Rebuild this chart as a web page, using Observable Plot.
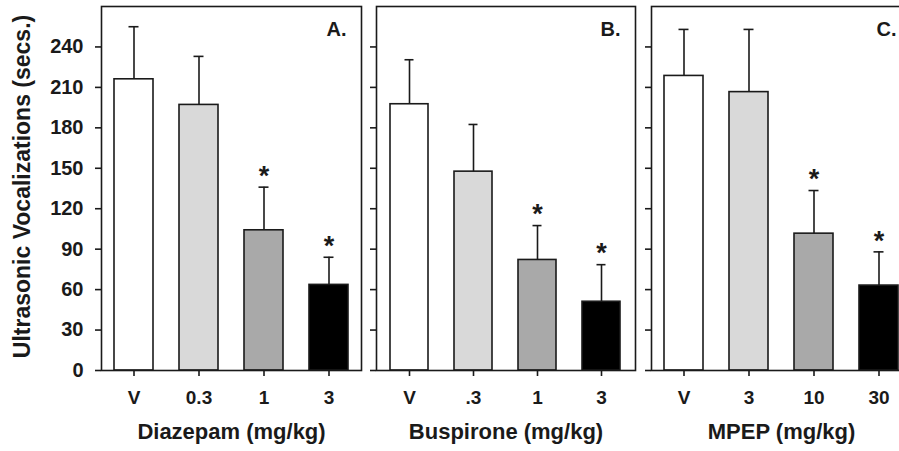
<!DOCTYPE html>
<html>
<head>
<meta charset="utf-8">
<script src="https://cdn.jsdelivr.net/npm/d3@7"></script>
<script src="https://cdn.jsdelivr.net/npm/@observablehq/plot@0.6"></script>
<style>
  html, body { margin: 0; padding: 0; background: white; }
  #wrap { position: relative; width: 899px; height: 451px; overflow: hidden; background: white; }
  .panel { position: absolute; top: 0; }
</style>
</head>
<body>
<div id="wrap"></div>
<script>
// ---- data ----
const dosesA = ["V", "0.3", "1", "3"];
const meansA = [216, 197, 104, 63.5];
const semsA  = [39, 36, 32, 20.5];
const sigA   = [false, false, true, true];

const dosesB = ["V", ".3", "1", "3"];
const meansB = [197.5, 147.5, 82, 51];
const semsB  = [33, 35, 25.5, 27.5];
const sigB   = [false, false, true, true];

const dosesC = ["V", "3", "10", "30"];
const meansC = [218.5, 206.5, 101.5, 63];
const semsC  = [34.5, 46.5, 32, 25];
const sigC   = [false, false, true, true];

const yTicks = [0, 30, 60, 90, 120, 150, 180, 210, 240];
const yLabel = "Ultrasonic Vocalizations (secs.)";
const xTitles = ["Diazepam (mg/kg)", "Buspirone (mg/kg)", "MPEP (mg/kg)"];
const panelLetters = ["A.", "B.", "C."];

// ---- styles ----
const barColors = ["#ffffff", "#d9d9d9", "#a9a9a9", "#000000"];
const ink = "#1a1a1a";
const font = "'Liberation Sans', Arial, Helvetica, sans-serif";

function rowsOf(doses, means, sems, sig) {
  return doses.map((d, i) => ({dose: d, mean: means[i], sem: sems[i], sig: sig[i], color: barColors[i]}));
}

function panel({doses, means, sems, sig, title, letter, left, width, marginLeft, marginRight, showY}) {
  const rows = rowsOf(doses, means, sems, sig);
  const marks = [
    Plot.barY(rows, {x: "dose", y: "mean", fill: "color", stroke: ink, strokeWidth: 1.6}),
    Plot.ruleX(rows, {x: "dose", y1: "mean", y2: d => d.mean + d.sem, stroke: ink, strokeWidth: 1.6}),
    Plot.tickY(rows, {x: "dose", y: d => d.mean + d.sem, stroke: ink, strokeWidth: 1.6, insetLeft: 14.5, insetRight: 14.5}),
    Plot.text(rows.filter(d => d.sig), {x: "dose", y: d => d.mean + d.sem, text: () => "*", dy: -11, fontSize: 27, fontWeight: "bold", fill: ink}),
    Plot.axisY({ticks: yTicks, tickSize: 6, tickPadding: 12, fontSize: 20, fontWeight: "bold", stroke: ink, strokeWidth: 1.6,
                fill: ink, label: null, tickFormat: showY ? (d => d) : (() => "")}),
    Plot.axisX({tickSize: 6, tickPadding: 14, fontSize: 19, fontWeight: "bold", stroke: ink, strokeWidth: 1.6, fill: ink, label: null}),
    Plot.frame({stroke: ink, strokeWidth: 1.6}),
    Plot.text([title], {text: d => d, frameAnchor: "bottom", dy: 68, fontSize: 22, fontWeight: "bold", fill: ink}),
    Plot.text([letter], {text: d => d, frameAnchor: "top-right", textAnchor: "end", dx: -15, dy: 15, fontSize: 20, fontWeight: "bold", fill: ink})
  ];
  if (showY) {
    marks.push(Plot.text([yLabel], {text: d => d, frameAnchor: "left", textAnchor: "middle", rotate: -90, dx: -79, dy: -2,
                                    fontSize: 23, fontWeight: "bold", fill: ink}));
  }
  const chart = Plot.plot({
    width, height: 451,
    marginLeft, marginRight, marginTop: 6, marginBottom: 81,
    style: {fontFamily: font, background: "white", color: ink, overflow: "visible"},
    x: {type: "band", domain: doses, paddingInner: 0.4, paddingOuter: 0.2},
    y: {domain: [0, 270]},
    marks
  });
  const div = document.createElement("div");
  div.className = "panel";
  div.style.left = left + "px";
  div.style.width = width + "px";
  div.appendChild(chart);
  document.getElementById("wrap").appendChild(div);
}

panel({doses: dosesA, means: meansA, sems: semsA, sig: sigA, title: xTitles[0], letter: panelLetters[0],
       left: 0, width: 368, marginLeft: 101, marginRight: 7, showY: true});
panel({doses: dosesB, means: meansB, sems: semsB, sig: sigB, title: xTitles[1], letter: panelLetters[1],
       left: 368, width: 275, marginLeft: 8, marginRight: 8, showY: false});
panel({doses: dosesC, means: meansC, sems: semsC, sig: sigC, title: xTitles[2], letter: panelLetters[2],
       left: 643, width: 276, marginLeft: 8, marginRight: 8, showY: false});
</script>
</body>
</html>
